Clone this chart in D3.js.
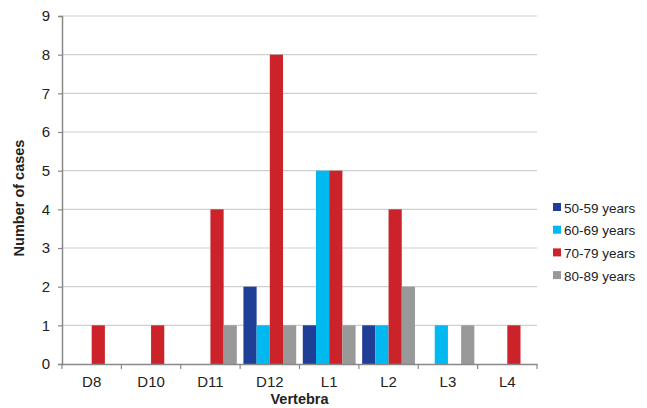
<!DOCTYPE html>
<html>
<head>
<meta charset="utf-8">
<script src="https://cdn.jsdelivr.net/npm/d3@7"></script>
<style>
  html, body { margin: 0; padding: 0; background: #fff; }
  svg { display: block; font-family: "Liberation Sans", Arial, sans-serif; }
</style>
</head>
<body>
<svg id="chart" width="647" height="408"></svg>
<script>
// Vertebral levels and age groups
const vertebrae = ["D8", "D10", "D11", "D12", "L1", "L2", "L3", "L4"];
const ageGroups = ["50-59 years", "60-69 years", "70-79 years", "80-89 years"];
const groupColors = ["#1f3e96", "#00b9f0", "#cc2229", "#999999"];

// Number of cases per vertebra for each age group
const cases50s = [0, 0, 0, 2, 1, 1, 0, 0];
const cases60s = [0, 0, 0, 1, 5, 1, 1, 0];
const cases70s = [1, 1, 4, 8, 5, 4, 0, 1];
const cases80s = [0, 0, 1, 1, 1, 2, 1, 0];
const seriesValues = [cases50s, cases60s, cases70s, cases80s];

const yTicks = [0, 1, 2, 3, 4, 5, 6, 7, 8, 9];

const svg = d3.select("#chart");
const margin = { left: 62, right: 110, top: 16, bottom: 44 };
const width = 647 - margin.left - margin.right;
const height = 408 - margin.top - margin.bottom;

const g = svg.append("g").attr("transform", `translate(${margin.left},${margin.top})`);

const x = d3.scaleBand().domain(vertebrae).range([0, width]).paddingInner(0).paddingOuter(0);
const xInner = d3.scaleBand().domain(ageGroups).range([0, x.bandwidth()]).paddingOuter(0.25).paddingInner(0);
const y = d3.scaleLinear().domain([0, 9]).range([height, 0]);

// Horizontal grid lines
g.append("g")
  .selectAll("line")
  .data(yTicks.slice(1))
  .join("line")
  .attr("x1", 0).attr("x2", width)
  .attr("y1", d => y(d)).attr("y2", d => y(d))
  .attr("stroke", "#cfcfcf").attr("stroke-width", 1.2);

// Bars
const rows = [];
vertebrae.forEach((v, i) => {
  ageGroups.forEach((a, j) => {
    rows.push({ v, a, j, value: seriesValues[j][i] });
  });
});

g.append("g")
  .selectAll("rect")
  .data(rows.filter(d => d.value > 0))
  .join("rect")
  .attr("x", d => x(d.v) + xInner(d.a))
  .attr("y", d => y(d.value))
  .attr("width", xInner.bandwidth())
  .attr("height", d => y(0) - y(d.value))
  .attr("fill", d => groupColors[d.j]);

// Y axis
const yAxis = g.append("g")
  .call(d3.axisLeft(y).tickValues(yTicks).tickFormat(d3.format("d")).tickSize(4).tickPadding(8));
yAxis.select(".domain").attr("stroke", "#888").attr("stroke-width", 1.5);
yAxis.selectAll(".tick line").attr("stroke", "#888").attr("stroke-width", 1.2);
yAxis.selectAll(".tick text").attr("font-size", 15).attr("fill", "#222")
  .attr("font-family", "Liberation Sans, Arial, sans-serif");

// X axis
const xAxis = g.append("g")
  .attr("transform", `translate(0,${height})`)
  .call(d3.axisBottom(x).tickSize(0).tickPadding(12));
xAxis.select(".domain").attr("stroke", "#888").attr("stroke-width", 1.5);
xAxis.selectAll(".tick text").attr("font-size", 15).attr("fill", "#222")
  .attr("font-family", "Liberation Sans, Arial, sans-serif");

// Category boundary ticks on the x axis
g.append("g")
  .selectAll("line")
  .data(d3.range(vertebrae.length + 1))
  .join("line")
  .attr("x1", i => i * x.step()).attr("x2", i => i * x.step())
  .attr("y1", height).attr("y2", height + 5)
  .attr("stroke", "#888").attr("stroke-width", 1.2);

// Axis titles
svg.append("text")
  .attr("x", margin.left + width / 2)
  .attr("y", 404)
  .attr("text-anchor", "middle")
  .attr("font-size", 14.5).attr("font-weight", "bold").attr("fill", "#222")
  .text("Vertebra");

svg.append("text")
  .attr("transform", "translate(24,198) rotate(-90)")
  .attr("text-anchor", "middle")
  .attr("font-size", 14.5).attr("font-weight", "bold").attr("fill", "#222")
  .text("Number of cases");

// Legend
const legend = svg.append("g").attr("transform", "translate(553,208)");
const items = legend.selectAll("g")
  .data(ageGroups)
  .join("g")
  .attr("transform", (d, i) => `translate(0,${i * 22.7})`);
items.append("rect")
  .attr("x", 0).attr("y", -5).attr("width", 8).attr("height", 8)
  .attr("fill", (d, i) => groupColors[i]);
items.append("text")
  .attr("x", 11).attr("y", 0).attr("dy", "0.35em")
  .attr("font-size", 13.5).attr("fill", "#222")
  .text(d => d);
</script>
</body>
</html>
